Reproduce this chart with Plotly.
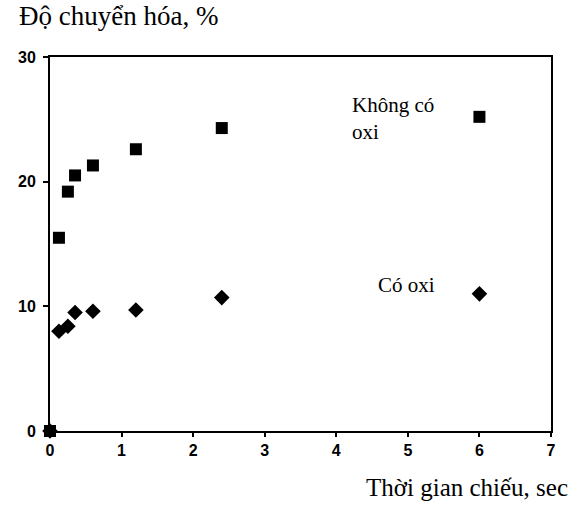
import plotly.graph_objects as go

time_sec = [0, 0.125, 0.25, 0.35, 0.6, 1.2, 2.4, 6]
khong_co_oxi = [0, 15.5, 19.2, 20.5, 21.3, 22.6, 24.3, 25.2]
co_oxi = [0, 8.0, 8.4, 9.5, 9.6, 9.7, 10.7, 11.0]
x_ticks = [0, 1, 2, 3, 4, 5, 6, 7]
y_ticks = [0, 10, 20, 30]

fig = go.Figure()
fig.add_trace(go.Scatter(x=time_sec, y=co_oxi, mode="markers", name="Có oxi",
                         marker=dict(symbol="diamond", size=12, color="black"),
                         cliponaxis=False))
fig.add_trace(go.Scatter(x=time_sec, y=khong_co_oxi, mode="markers", name="Không có oxi",
                         marker=dict(symbol="square", size=12, color="black"),
                         cliponaxis=False))

serif = "Liberation Serif, Times New Roman, serif"
tickfont = dict(family="Liberation Sans, Arial, sans-serif", size=16, color="black", weight="bold")

fig.update_layout(
    width=574, height=505,
    margin=dict(l=50, r=23, t=57, b=74),
    paper_bgcolor="white", plot_bgcolor="white",
    showlegend=False,
    xaxis=dict(range=[0, 7], tickvals=x_ticks, ticktext=[str(v) for v in x_ticks],
               showgrid=False, zeroline=False, showline=True, linecolor="black",
               linewidth=2, mirror=True, ticks="outside", ticklen=4, tickwidth=1.5,
               tickcolor="black", tickfont=tickfont),
    yaxis=dict(range=[0, 30], tickvals=y_ticks, ticktext=[str(v) for v in y_ticks],
               showgrid=False, zeroline=False, showline=True, linecolor="black",
               linewidth=2, mirror=True, ticks="outside", ticklen=5, tickwidth=1.5,
               tickcolor="black", tickfont=tickfont, ticklabelstandoff=4),
    annotations=[
        dict(text="Độ chuyển hóa, %", xref="paper", yref="paper", x=-0.066, y=1.11,
             xanchor="left", yanchor="middle", showarrow=False,
             font=dict(family=serif, size=27, color="black")),
        dict(text="Thời gian chiếu, sec", xref="paper", yref="paper", x=1.037, y=-0.15,
             xanchor="right", yanchor="middle", showarrow=False,
             font=dict(family=serif, size=25, color="black")),
        dict(text="Không có<br>oxi", xref="paper", yref="paper", x=0.598, y=0.91,
             xanchor="left", yanchor="top", align="left", showarrow=False,
             font=dict(family=serif, size=21, color="black")),
        dict(text="Có oxi", xref="paper", yref="paper", x=0.65, y=0.39,
             xanchor="left", yanchor="middle", align="left", showarrow=False,
             font=dict(family=serif, size=21, color="black")),
    ],
)

fig.write_html("out.html", config={"displayModeBar": False},
               post_script="document.body.style.margin='0';document.body.style.overflow='hidden';")
